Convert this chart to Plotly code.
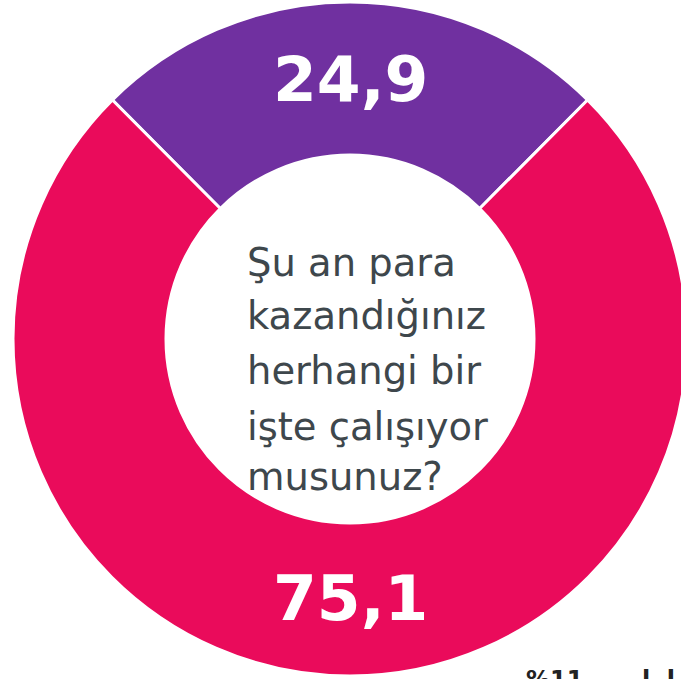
import math
import plotly.graph_objects as go

# Data
labels = ["Evet", "Hayır"]
values = [24.9, 75.1]
value_labels = ["24,9", "75,1"]
colors = ["#7030A0", "#EA0B5B"]
question_lines = ["Şu an para", "kazandığınız", "herhangi bir", "işte çalışıyor", "musunuz?"]
footer_text = "%11" + "\u00a0" * 7 + "l\u00a0\u00a0l"

W, H = 700, 679
CX, CY, R_OUT = 350, 339, 337
HOLE = 0.546
rotation = -values[0] / 100 * 360 / 2


def px(x):
    return x / W


def py(y):
    return 1 - y / H


fig = go.Figure()
fig.add_trace(go.Pie(
    labels=labels,
    values=values,
    sort=False,
    direction="clockwise",
    rotation=rotation,
    hole=HOLE,
    marker=dict(colors=colors, line=dict(color="white", width=3)),
    textinfo="none",
    domain=dict(x=[px(CX - R_OUT), px(CX + R_OUT)], y=[py(CY + R_OUT), py(CY - R_OUT)]),
    showlegend=False,
    hoverinfo="label+value",
))

# value labels at the middle of each ring segment
total = sum(values)
cum = 0
r_lab = R_OUT * (1 + HOLE) / 2 - 1
for v, t in zip(values, value_labels):
    mid = rotation + (cum + v / 2) / total * 360
    cum += v
    a = math.radians(mid)
    x = CX + r_lab * math.sin(a)
    y = CY - r_lab * math.cos(a)
    fig.add_annotation(
        text=t, xref="paper", yref="paper",
        x=px(x), y=py(y), xanchor="center", yanchor="middle",
        showarrow=False,
        font=dict(family="DejaVu Sans", size=63, color="white", weight="bold"),
    )

baselines = [273, 326, 382, 437, 488]
for line, b in zip(question_lines, baselines):
    fig.add_annotation(
        text=line, xref="paper", yref="paper",
        x=px(245), y=py(b - 11), xanchor="left", yanchor="middle",
        showarrow=False,
        font=dict(family="DejaVu Sans", size=38.5, color="#3E474C"),
    )

fig.add_annotation(
    text=footer_text, xref="paper", yref="paper",
    x=px(524), y=py(664), xanchor="left", yanchor="top",
    showarrow=False,
    font=dict(family="DejaVu Sans", size=24, color="#222222", weight="bold"),
)

fig.update_layout(
    width=W, height=H,
    margin=dict(l=0, r=0, t=0, b=0),
    paper_bgcolor="white",
    plot_bgcolor="white",
    separators=",.",
)

fig.write_html(
    "out.html",
    config={"displayModeBar": False},
    post_script="document.body.style.margin='0';document.body.style.overflow='hidden';",
)
